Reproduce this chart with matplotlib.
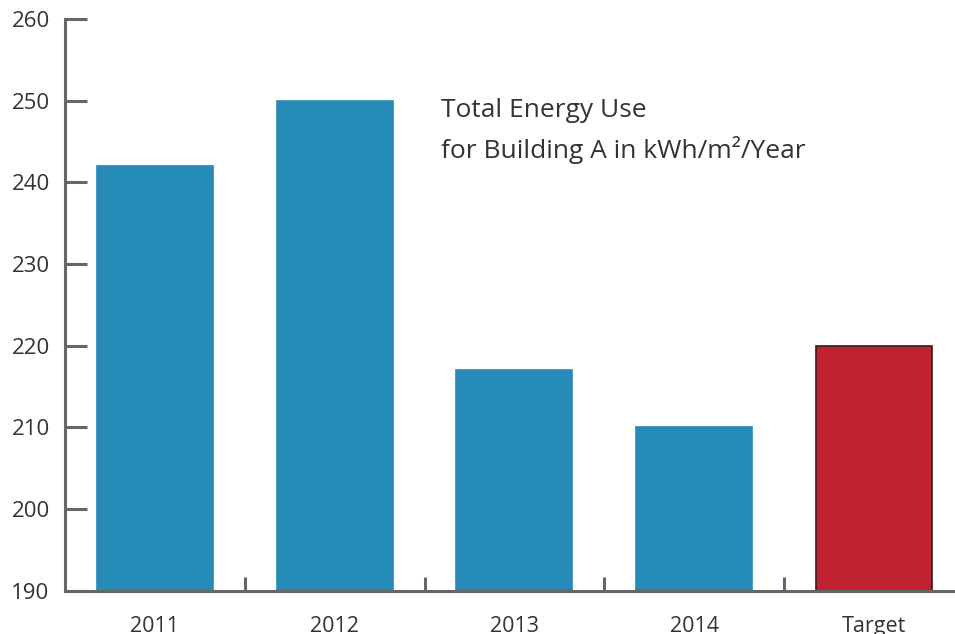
import matplotlib
matplotlib.use("Agg")
import matplotlib.pyplot as plt
import numpy as np

categories = ["2011", "2012", "2013", "2014", "Target"]
values = [242, 250, 217, 210, 220]
colors = ["#268bb6", "#268bb6", "#268bb6", "#268bb6", "#c0232f"]
edges = ["#268bb6", "#268bb6", "#268bb6", "#268bb6", "#3a1a1a"]
yticks = [190, 200, 210, 220, 230, 240, 250, 260]

plt.rcParams['font.family'] = ['Open Sans', 'DejaVu Sans']

fig = plt.figure(figsize=(9.55, 6.34), dpi=100)
ax = fig.add_axes([0.068, 0.068, 0.932, 0.902])

x = np.arange(len(categories))
ax.bar(x, [v - 190 for v in values], bottom=190, width=0.645, color=colors,
       edgecolor=edges, linewidth=1.2, zorder=2)

ax.set_xlim(-0.5, 4.45)
ax.set_ylim(190, 260)

spine_c = "#666666"
for s in ["top", "right"]:
    ax.spines[s].set_visible(False)
for s in ["left", "bottom"]:
    ax.spines[s].set_color(spine_c)
    ax.spines[s].set_linewidth(2.2)
    ax.spines[s].set_zorder(3)

ax.set_yticks(yticks)
ax.set_yticklabels([str(t) for t in yticks])
ax.tick_params(axis="y", direction="in", length=16, width=2.2, color=spine_c,
               labelsize=16, labelcolor="#333333", pad=11)

ax.set_xticks(x)
ax.set_xticklabels(categories)
ax.set_xticks(x[:-1] + 0.5, minor=True)
ax.tick_params(axis="x", which="major", length=0, labelsize=15.5,
               labelcolor="#333333", pad=18)
ax.tick_params(axis="x", which="minor", direction="in", length=10, width=2.2,
               color=spine_c)

ax.text(0.4225, 0.804, "Total Energy Use\nfor Building A in kWh/m\u00b2/Year",
        transform=ax.transAxes, fontsize=19, color="#333333",
        ha="left", va="center", linespacing=1.6)

fig.savefig("out.png", dpi=100)
